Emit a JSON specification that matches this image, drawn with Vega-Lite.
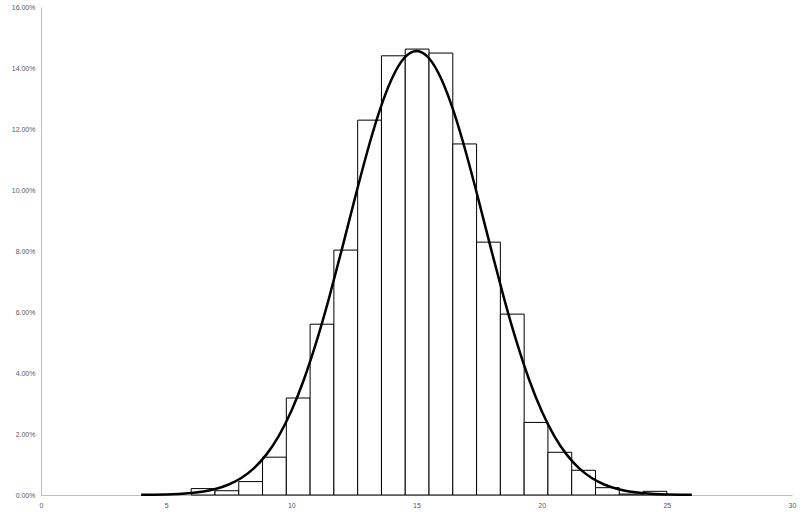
{
  "$schema": "https://vega.github.io/schema/vega-lite/v6.json",
  "autosize": "none",
  "width": 751,
  "height": 488,
  "padding": {"left": 41, "top": 7, "right": 10, "bottom": 17},
  "background": "white",
  "config": {
    "view": {"stroke": null},
    "axis": {
      "labelFont": "Liberation Sans",
      "labelFontSize": 7,
      "labelColor": "#595959",
      "domainColor": "#bfbfbf",
      "domainWidth": 1,
      "ticks": false,
      "grid": false,
      "title": null,
      "labelFlush": false,
      "labelOverlap": false
    }
  },
  "datasets": {
    "bars": [
      {"x0": 6.00, "x1": 6.95, "share": 0.0021},
      {"x0": 6.95, "x1": 7.90, "share": 0.0014},
      {"x0": 7.90, "x1": 8.85, "share": 0.0044},
      {"x0": 8.85, "x1": 9.80, "share": 0.0124},
      {"x0": 9.80, "x1": 10.75, "share": 0.0318},
      {"x0": 10.75, "x1": 11.70, "share": 0.0560},
      {"x0": 11.70, "x1": 12.65, "share": 0.0803},
      {"x0": 12.65, "x1": 13.60, "share": 0.1229},
      {"x0": 13.60, "x1": 14.55, "share": 0.1440},
      {"x0": 14.55, "x1": 15.50, "share": 0.1462},
      {"x0": 15.50, "x1": 16.45, "share": 0.1449},
      {"x0": 16.45, "x1": 17.40, "share": 0.1151},
      {"x0": 17.40, "x1": 18.35, "share": 0.0829},
      {"x0": 18.35, "x1": 19.30, "share": 0.0593},
      {"x0": 19.30, "x1": 20.25, "share": 0.0238},
      {"x0": 20.25, "x1": 21.20, "share": 0.0140},
      {"x0": 21.20, "x1": 22.15, "share": 0.0081},
      {"x0": 22.15, "x1": 23.10, "share": 0.0024},
      {"x0": 23.10, "x1": 24.05, "share": 0.0003},
      {"x0": 24.05, "x1": 25.00, "share": 0.0012}
    ],
    "curve": [
      {"x": 4.0, "p": 0.000046},
      {"x": 4.5, "p": 0.000094},
      {"x": 5.0, "p": 0.00019},
      {"x": 5.5, "p": 0.00036},
      {"x": 6.0, "p": 0.00066},
      {"x": 6.5, "p": 0.00118},
      {"x": 7.0, "p": 0.00205},
      {"x": 7.5, "p": 0.00344},
      {"x": 8.0, "p": 0.00557},
      {"x": 8.5, "p": 0.00873},
      {"x": 9.0, "p": 0.01324},
      {"x": 9.5, "p": 0.01942},
      {"x": 10.0, "p": 0.02755},
      {"x": 10.5, "p": 0.03780},
      {"x": 11.0, "p": 0.05017},
      {"x": 11.5, "p": 0.06439},
      {"x": 12.0, "p": 0.07996},
      {"x": 12.5, "p": 0.09603},
      {"x": 13.0, "p": 0.11155},
      {"x": 13.5, "p": 0.12534},
      {"x": 14.0, "p": 0.13622},
      {"x": 14.5, "p": 0.14320},
      {"x": 15.0, "p": 0.14560},
      {"x": 15.5, "p": 0.14320},
      {"x": 16.0, "p": 0.13622},
      {"x": 16.5, "p": 0.12534},
      {"x": 17.0, "p": 0.11155},
      {"x": 17.5, "p": 0.09603},
      {"x": 18.0, "p": 0.07996},
      {"x": 18.5, "p": 0.06439},
      {"x": 19.0, "p": 0.05017},
      {"x": 19.5, "p": 0.03780},
      {"x": 20.0, "p": 0.02755},
      {"x": 20.5, "p": 0.01942},
      {"x": 21.0, "p": 0.01324},
      {"x": 21.5, "p": 0.00873},
      {"x": 22.0, "p": 0.00557},
      {"x": 22.5, "p": 0.00344},
      {"x": 23.0, "p": 0.00205},
      {"x": 23.5, "p": 0.00118},
      {"x": 24.0, "p": 0.00066},
      {"x": 24.5, "p": 0.00036},
      {"x": 25.0, "p": 0.00019},
      {"x": 25.5, "p": 0.000094},
      {"x": 26.0, "p": 0.000046}
    ]
  },
  "layer": [
    {
      "data": {"name": "bars"},
      "mark": {"type": "rect", "fill": "white", "stroke": "black", "strokeWidth": 1},
      "encoding": {
        "x": {
          "field": "x0", "type": "quantitative",
          "scale": {"domain": [0, 30], "nice": false, "zero": false},
          "axis": {"values": [0, 5, 10, 15, 20, 25, 30], "labelPadding": 6, "format": "d"}
        },
        "x2": {"field": "x1"},
        "y": {
          "field": "share", "type": "quantitative",
          "scale": {"domain": [0, 0.16], "nice": false},
          "axis": {"values": [0, 0.02, 0.04, 0.06, 0.08, 0.10, 0.12, 0.14, 0.16], "format": ".2%", "labelPadding": 6}
        },
        "y2": {"datum": 0}
      }
    },
    {
      "data": {"name": "curve"},
      "mark": {"type": "line", "color": "black", "strokeWidth": 2.5, "interpolate": "natural"},
      "encoding": {
        "x": {"field": "x", "type": "quantitative"},
        "y": {"field": "p", "type": "quantitative"}
      }
    }
  ]
}
